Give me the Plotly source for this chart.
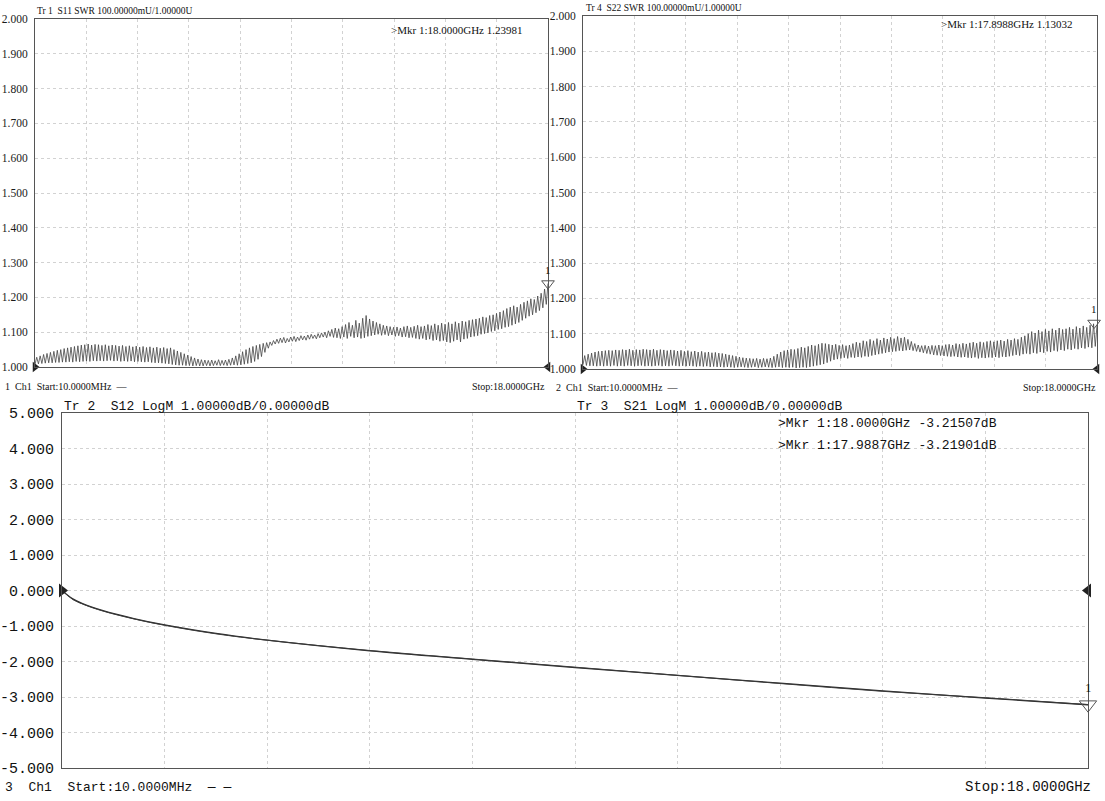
import numpy as np
import plotly.graph_objects as go

W, H = 1105, 801

# ---------------- data ----------------
f_start, f_stop = 0.01, 18.0  # GHz sweep

# S11 SWR ripple: troughs (lo) and peaks (hi) read along the sweep
s11_hi = [1.028, 1.032, 1.036, 1.039, 1.042, 1.045, 1.048, 1.050, 1.053, 1.055,
          1.057, 1.059, 1.061, 1.063, 1.064, 1.066, 1.063, 1.065, 1.064, 1.062,
          1.064, 1.061, 1.063, 1.062, 1.060, 1.062, 1.059, 1.061, 1.058, 1.060,
          1.057, 1.059, 1.056, 1.058, 1.055, 1.057, 1.054, 1.056, 1.053, 1.055,
          1.050, 1.046, 1.042, 1.038, 1.034, 1.030, 1.026, 1.023, 1.021, 1.020,
          1.019, 1.020, 1.018, 1.021, 1.019, 1.020, 1.022, 1.026, 1.032, 1.038,
          1.044, 1.050, 1.055, 1.059, 1.062, 1.065, 1.068, 1.070, 1.072, 1.076,
          1.080, 1.083, 1.085, 1.082, 1.086, 1.088, 1.086, 1.090, 1.089, 1.092,
          1.094, 1.092, 1.096, 1.098, 1.100, 1.104, 1.108, 1.112, 1.110, 1.116,
          1.122, 1.128, 1.120, 1.134, 1.126, 1.140, 1.148, 1.138, 1.132, 1.128,
          1.124, 1.120, 1.118, 1.116, 1.114, 1.115, 1.112, 1.116, 1.118, 1.114,
          1.117, 1.120, 1.116, 1.118, 1.122, 1.119, 1.124, 1.120, 1.126, 1.123,
          1.128, 1.124, 1.130, 1.126, 1.132, 1.130, 1.134, 1.136, 1.138, 1.140,
          1.144, 1.142, 1.148, 1.150, 1.154, 1.158, 1.162, 1.168, 1.172, 1.176,
          1.172, 1.180, 1.186, 1.190, 1.196, 1.194, 1.204, 1.212, 1.224, 1.240]
s11_lo = [1.008, 1.009, 1.010, 1.011, 1.012, 1.012, 1.013, 1.013, 1.014, 1.014,
          1.015, 1.014, 1.016, 1.015, 1.016, 1.017, 1.016, 1.018, 1.017, 1.018,
          1.017, 1.018, 1.019, 1.017, 1.018, 1.016, 1.017, 1.016, 1.017, 1.015,
          1.016, 1.015, 1.014, 1.015, 1.013, 1.012, 1.012, 1.011, 1.010, 1.009,
          1.007, 1.006, 1.005, 1.005, 1.004, 1.004, 1.003, 1.004, 1.003, 1.003,
          1.004, 1.003, 1.004, 1.005, 1.004, 1.005, 1.004, 1.005, 1.006, 1.005,
          1.006, 1.008, 1.010, 1.012, 1.016, 1.022, 1.030, 1.042, 1.054, 1.062,
          1.066, 1.068, 1.070, 1.069, 1.072, 1.074, 1.073, 1.076, 1.078, 1.077,
          1.080, 1.082, 1.081, 1.084, 1.086, 1.084, 1.088, 1.085, 1.084, 1.082,
          1.086, 1.082, 1.088, 1.084, 1.086, 1.082, 1.084, 1.088, 1.090, 1.092,
          1.094, 1.091, 1.093, 1.090, 1.092, 1.088, 1.090, 1.086, 1.087, 1.084,
          1.085, 1.082, 1.080, 1.082, 1.078, 1.080, 1.076, 1.078, 1.074, 1.076,
          1.072, 1.070, 1.074, 1.078, 1.072, 1.080, 1.082, 1.086, 1.088, 1.090,
          1.094, 1.096, 1.098, 1.102, 1.104, 1.108, 1.110, 1.114, 1.116, 1.120,
          1.124, 1.128, 1.134, 1.140, 1.146, 1.150, 1.156, 1.162, 1.170, 1.180]

# S22 SWR ripple
s22_hi = [1.038, 1.042, 1.045, 1.048, 1.050, 1.051, 1.052, 1.053, 1.052, 1.054,
          1.053, 1.055, 1.054, 1.056, 1.053, 1.055, 1.054, 1.056, 1.055, 1.054,
          1.056, 1.053, 1.055, 1.054, 1.052, 1.054, 1.053, 1.051, 1.053, 1.050,
          1.052, 1.049, 1.051, 1.048, 1.050, 1.047, 1.048, 1.046, 1.047, 1.045,
          1.044, 1.042, 1.040, 1.038, 1.036, 1.034, 1.032, 1.031, 1.030, 1.029,
          1.030, 1.028, 1.030, 1.029, 1.031, 1.036, 1.042, 1.048, 1.052, 1.054,
          1.056, 1.055, 1.058, 1.062, 1.060, 1.064, 1.068, 1.066, 1.070, 1.073,
          1.072, 1.070, 1.068, 1.070, 1.067, 1.069, 1.066, 1.068, 1.072, 1.076,
          1.074, 1.080, 1.078, 1.084, 1.080, 1.086, 1.082, 1.088, 1.085, 1.090,
          1.086, 1.092, 1.088, 1.090, 1.084, 1.078, 1.072, 1.068, 1.066, 1.067,
          1.065, 1.067, 1.066, 1.068, 1.066, 1.069, 1.070, 1.068, 1.072, 1.070,
          1.073, 1.071, 1.074, 1.076, 1.073, 1.077, 1.075, 1.078, 1.080, 1.077,
          1.080, 1.082, 1.079, 1.084, 1.082, 1.086, 1.084, 1.090, 1.094, 1.100,
          1.106, 1.102, 1.110, 1.106, 1.112, 1.108, 1.114, 1.110, 1.116, 1.112,
          1.114, 1.118, 1.113, 1.120, 1.116, 1.122, 1.118, 1.124, 1.128, 1.124]
s22_lo = [1.012, 1.010, 1.009, 1.009, 1.008, 1.009, 1.008, 1.009, 1.008, 1.010,
          1.008, 1.009, 1.008, 1.010, 1.009, 1.008, 1.009, 1.010, 1.008, 1.009,
          1.008, 1.009, 1.010, 1.008, 1.009, 1.008, 1.010, 1.009, 1.008, 1.009,
          1.008, 1.009, 1.008, 1.007, 1.008, 1.007, 1.008, 1.006, 1.007, 1.006,
          1.006, 1.005, 1.006, 1.005, 1.004, 1.005, 1.006, 1.005, 1.004, 1.005,
          1.006, 1.004, 1.005, 1.006, 1.005, 1.004, 1.005, 1.006, 1.004, 1.005,
          1.004, 1.005, 1.003, 1.004, 1.005, 1.004, 1.006, 1.008, 1.010, 1.012,
          1.014, 1.018, 1.022, 1.026, 1.028, 1.030, 1.032, 1.030, 1.033, 1.032,
          1.034, 1.033, 1.036, 1.035, 1.038, 1.040, 1.042, 1.044, 1.046, 1.048,
          1.049, 1.050, 1.052, 1.051, 1.053, 1.054, 1.052, 1.050, 1.048, 1.046,
          1.044, 1.042, 1.040, 1.039, 1.038, 1.037, 1.036, 1.035, 1.036, 1.034,
          1.033, 1.034, 1.032, 1.031, 1.033, 1.030, 1.032, 1.031, 1.033, 1.032,
          1.034, 1.032, 1.035, 1.034, 1.036, 1.038, 1.040, 1.038, 1.042, 1.044,
          1.042, 1.046, 1.044, 1.048, 1.046, 1.050, 1.048, 1.052, 1.050, 1.054,
          1.052, 1.056, 1.054, 1.058, 1.056, 1.060, 1.058, 1.062, 1.060, 1.064]

# Insertion loss (LogM, dB)
loss_freq = [0.01, 0.19, 0.37, 0.73, 1.27, 1.81, 2.71, 3.61, 5.41, 7.21,
             9.01, 10.80, 12.60, 14.40, 16.20, 18.00]
s21_db = [0.0, -0.24, -0.38, -0.58, -0.80, -0.98, -1.22, -1.40, -1.69, -1.93,
          -2.16, -2.39, -2.62, -2.84, -3.02, -3.215]
s12_db = [0.0, -0.23, -0.37, -0.57, -0.79, -0.97, -1.21, -1.40, -1.70, -1.94,
          -2.17, -2.39, -2.61, -2.83, -3.03, -3.219]

# Markers
mkr_s11 = (18.0, 1.23981)
mkr_s22 = (17.8988, 1.13032)
mkr_s21 = (18.0, -3.21507)

swr_ticks = [1.0, 1.1, 1.2, 1.3, 1.4, 1.5, 1.6, 1.7, 1.8, 1.9, 2.0]
db_ticks = [-5, -4, -3, -2, -1, 0, 1, 2, 3, 4, 5]

# ---------------- build ----------------
s11 = [v for pair in zip(s11_lo, s11_hi) for v in pair]
s22 = [v for pair in zip(s22_lo, s22_hi) for v in pair]
f11 = np.linspace(f_start, f_stop, len(s11))
f22 = np.linspace(f_start, f_stop, len(s22))
xgrid = [f_start + k * (f_stop - f_start) / 10 for k in range(11)]

TRACE = "#444444"
FRAME = "#555555"
GRID = "#d2d2d2"
SMALL_FONT = "Liberation Sans Narrow, Liberation Serif, serif"
BIG_FONT = "Liberation Mono, DejaVu Sans Mono, monospace"


def px(x):
    return x / W


def py(y):
    return 1 - y / H


fig = go.Figure()

fig.add_trace(go.Scatter(x=f11, y=s11, mode="lines", line=dict(color=TRACE, width=0.8),
                         xaxis="x", yaxis="y", showlegend=False))
fig.add_trace(go.Scatter(x=f22, y=s22, mode="lines", line=dict(color=TRACE, width=0.8),
                         xaxis="x2", yaxis="y2", showlegend=False))
fig.add_trace(go.Scatter(x=loss_freq, y=s12_db, mode="lines", line=dict(color="#2b2b2b", width=1.3, shape="spline"),
                         xaxis="x3", yaxis="y3", showlegend=False))
fig.add_trace(go.Scatter(x=loss_freq, y=s21_db, mode="lines", line=dict(color="#3a3a3a", width=1, shape="spline"),
                         xaxis="x3", yaxis="y3", showlegend=False))

# marker triangles
for (mx, my), xa, ya, sz in [(mkr_s11, "x", "y", 11), (mkr_s22, "x2", "y2", 11), (mkr_s21, "x3", "y3", 15)]:
    fig.add_trace(go.Scatter(x=[mx], y=[my], mode="markers", xaxis=xa, yaxis=ya, showlegend=False,
                             cliponaxis=False,
                             marker=dict(symbol="triangle-down-open", size=sz,
                                         line=dict(color="#555", width=1), color="#555")))
# reference-level arrows
for xa, ya, ref in [("x", "y", 1.0), ("x2", "y2", 1.0), ("x3", "y3", 0.0)]:
    s = 9 if xa != "x3" else 12
    fig.add_trace(go.Scatter(x=[f_start], y=[ref], mode="markers", xaxis=xa, yaxis=ya, showlegend=False,
                             cliponaxis=False, marker=dict(symbol="triangle-right", size=s, color="#222")))
    fig.add_trace(go.Scatter(x=[f_stop], y=[ref], mode="markers", xaxis=xa, yaxis=ya, showlegend=False,
                             cliponaxis=False, marker=dict(symbol="triangle-left", size=s, color="#222")))


def xaxis(domain, anchor):
    return dict(domain=domain, anchor=anchor, range=[f_start, f_stop], tickvals=xgrid,
                showticklabels=False, ticks="", showgrid=True, gridcolor=GRID, griddash="dot",
                gridwidth=1, zeroline=False, showline=True, mirror=True, linecolor=FRAME, linewidth=1,
                automargin=False)


def yaxis(domain, anchor, rng, tv, tt, font):
    return dict(domain=domain, anchor=anchor, range=rng, tickvals=tv, ticktext=tt,
                ticks="", showgrid=True, gridcolor=GRID, griddash="dot", gridwidth=1,
                zeroline=False, showline=True, mirror=True, linecolor=FRAME, linewidth=1,
                tickfont=font, ticklabelstandoff=4, automargin=False)


swr_text = ["%.3f" % v for v in swr_ticks]
db_text = [("%.3f" % v) for v in db_ticks]
small_tick_font = dict(family=SMALL_FONT, size=11.5, color="#1a1a1a")
big_tick_font = dict(family=BIG_FONT, size=15, color="#111")

fig.update_layout(
    width=W, height=H, margin=dict(l=0, r=0, t=0, b=0, autoexpand=False),
    paper_bgcolor="white", plot_bgcolor="white", showlegend=False,
    xaxis=xaxis([px(35), px(548)], "y"),
    yaxis=yaxis([py(367), py(19)], "x", [1.0, 2.0], swr_ticks, swr_text, small_tick_font),
    xaxis2=xaxis([px(583), px(1097)], "y2"),
    yaxis2=yaxis([py(369), py(16)], "x2", [1.0, 2.0], swr_ticks, swr_text, small_tick_font),
    xaxis3=xaxis([px(62), px(1088)], "y3"),
    yaxis3=yaxis([py(768), py(413)], "x3", [-5, 5], db_ticks, db_text, big_tick_font),
)

NB = "\u00a0"


def note(text, x, y, font, size, xanchor="left"):
    fig.add_annotation(text=text.replace(" ", NB), x=px(x), y=py(y), xref="paper", yref="paper",
                       xanchor=xanchor, yanchor="middle", showarrow=False,
                       font=dict(family=font, size=size, color="#111"))


note("Tr 1  S11 SWR 100.00000mU/1.00000U", 35, 11, SMALL_FONT, 9.5)
note(">Mkr 1:18.0000GHz 1.23981", 389, 30, SMALL_FONT, 11)
note("1  Ch1  Start:10.0000MHz  \u2014", 3, 386, SMALL_FONT, 10)
note("Stop:18.0000GHz", 547, 386, SMALL_FONT, 10, "right")

note("Tr 4  S22 SWR 100.00000mU/1.00000U", 584, 8, SMALL_FONT, 9.5)
note(">Mkr 1:17.8988GHz 1.13032", 939, 24, SMALL_FONT, 11)
note("2  Ch1  Start:10.0000MHz  \u2014", 554, 387, SMALL_FONT, 10)
note("Stop:18.0000GHz", 1098, 387, SMALL_FONT, 10, "right")

note("Tr 2  S12 LogM 1.00000dB/0.00000dB", 62, 406, BIG_FONT, 13)
note("Tr 3  S21 LogM 1.00000dB/0.00000dB", 575, 406, BIG_FONT, 13)
note(">Mkr 1:18.0000GHz -3.21507dB", 776, 424, BIG_FONT, 13)
note(">Mkr 1:17.9887GHz -3.21901dB", 776, 445, BIG_FONT, 13)
note("3  Ch1  Start:10.0000MHz  \u2014 \u2014", 3, 787, BIG_FONT, 13)
note("Stop:18.0000GHz", 1093, 787, BIG_FONT, 14, "right")

# marker numbers
for (mx, my), xa, ya, sh in [(mkr_s11, "x", "y", 14), (mkr_s22, "x2", "y2", 14), (mkr_s21, "x3", "y3", 17)]:
    fig.add_annotation(text="1", x=mx, y=my, xref=xa, yref=ya, showarrow=False, yshift=sh,
                       font=dict(family=SMALL_FONT, size=11 if xa != "x3" else 13, color="#111"))

fig.write_html("out.html", config={"displayModeBar": False},
               post_script="document.body.style.margin='0px';document.body.style.padding='0px';")
